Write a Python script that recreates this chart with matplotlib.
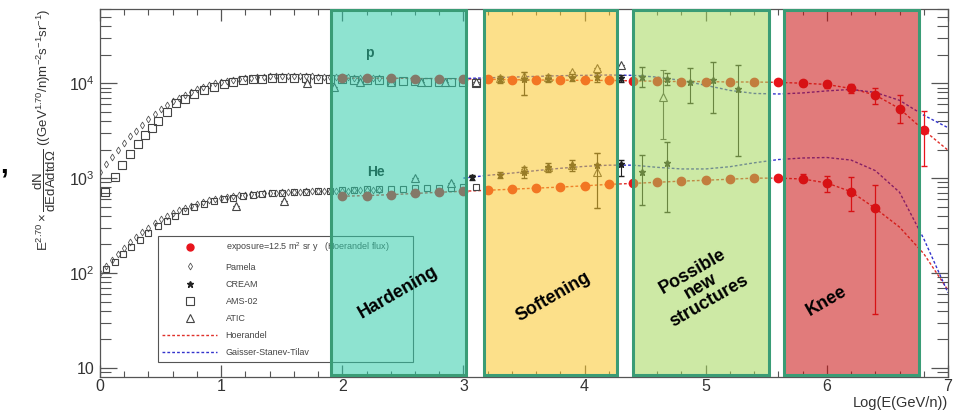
import matplotlib
matplotlib.use("Agg")

import numpy as np
import matplotlib.pyplot as plt
from matplotlib.colors import to_rgba
from matplotlib.lines import Line2D
from matplotlib.ticker import FixedLocator, FixedFormatter, MultipleLocator, LogLocator, NullFormatter

plt.rcParams["font.family"] = ["Liberation Sans", "DejaVu Sans"]
plt.rcParams["mathtext.fontset"] = "custom"
plt.rcParams["mathtext.rm"] = "Liberation Sans"
plt.rcParams["mathtext.it"] = "Liberation Sans:italic"

# ---- data (log10 E in GeV/n, flux x E^2.70) ----
pamela_x = np.arange(0.0, 2.31, 0.05)
pamela_p = [1150, 1400, 1680, 2000, 2350, 2750, 3150, 3650, 4200, 4750, 5300, 5900,
            6500, 7050, 7600, 8150, 8650, 9100, 9550, 9950, 10300, 10600, 10850, 11100,
            11300, 11450, 11600, 11700, 11800, 11850, 11850, 11900, 11900, 11850, 11850,
            11800, 11750, 11700, 11650, 11600, 11550, 11500, 11450, 11400, 11350, 11300, 11250]
pamela_he = [100, 118, 138, 160, 185, 210, 240, 270, 300, 335, 370, 400, 430, 460, 490,
             515, 540, 565, 585, 605, 620, 635, 648, 660, 670, 680, 688, 695, 700, 705,
             710, 715, 718, 722, 725, 728, 730, 732, 734, 736, 738, 740, 742, 744, 746, 748, 750]

ams_p_x = [0.04, 0.12, 0.18, 0.25, 0.31, 0.37, 0.43, 0.48, 0.55, 0.63, 0.70, 0.78, 0.86,
           0.94, 1.02, 1.10, 1.18, 1.26, 1.34, 1.42, 1.50, 1.60, 1.70, 1.80, 1.90, 2.00,
           2.10, 2.20, 2.30, 2.40, 2.50, 2.60, 2.70, 2.80, 2.90, 3.00, 3.10]
ams_p = [714, 1020, 1370, 1790, 2280, 2840, 3360, 3980, 4950, 6160, 6900, 7700, 8500,
         9200, 9800, 10300, 10700, 11000, 11200, 11300, 11400, 11350, 11300, 11200, 11100,
         11000, 10900, 10800, 10700, 10600, 10500, 10450, 10400, 10350, 10300, 10200, 10100]
ams_he_x = [0.05, 0.12, 0.19, 0.26, 0.33, 0.40, 0.48, 0.55, 0.62, 0.70, 0.78, 0.86, 0.94,
            1.02, 1.10, 1.18, 1.26, 1.34, 1.42, 1.50, 1.60, 1.70, 1.80, 1.90, 2.00, 2.10,
            2.20, 2.30, 2.40, 2.50, 2.60, 2.70, 2.80, 2.90, 3.00, 3.10]
ams_he = [110, 130, 158, 190, 225, 265, 310, 355, 400, 450, 495, 535, 570, 600, 625, 648,
          665, 680, 692, 700, 710, 718, 725, 735, 745, 755, 760, 765, 770, 775, 780, 785,
          790, 795, 800, 815]

atic_p_x = [1.71, 1.93, 2.15, 2.40, 2.65, 2.85, 3.10, 3.30, 3.50, 3.70, 3.90, 4.10, 4.30, 4.65]
atic_p = [10000, 9100, 10300, 10200, 10400, 10300, 10200, 11300, 12000, 11600, 13000, 14400, 15500, 7100]
atic_p_lo = [10000, 9100, 10300, 10200, 10400, 10300, 10200, 11300, 7500, 11600, 13000, 14400, 15500, 2600]
atic_p_hi = [10000, 9100, 10300, 10200, 10400, 10300, 10200, 11300, 13000, 11600, 13000, 14400, 15500, 13700]
atic_he_x = [1.12, 1.52, 2.60, 2.90, 3.50, 3.70, 3.90, 4.10]
atic_he = [505, 570, 1000, 880, 1250, 1320, 1380, 1160]
atic_he_lo = [505, 570, 1000, 880, 1250, 1320, 1380, 480]
atic_he_hi = [505, 570, 1000, 880, 1250, 1320, 1380, 1830]

cream_p_x = [3.30, 3.50, 3.70, 3.90, 4.10, 4.30, 4.47, 4.68, 4.87, 5.06, 5.27]
cream_p = [11000, 11000, 11200, 11400, 11500, 11300, 11600, 11000, 10200, 10700, 8600]
cream_p_lo = [10000, 7500, 10300, 10500, 10400, 10300, 9100, 9500, 6200, 4800, 1700]
cream_p_hi = [12000, 13000, 12200, 12400, 12800, 12300, 14700, 12800, 14400, 16600, 15500]
cream_he_x = [3.07, 3.30, 3.50, 3.70, 3.90, 4.10, 4.30, 4.47, 4.68]
cream_he = [1020, 1070, 1150, 1310, 1370, 1370, 1400, 1150, 1440]
cream_he_lo = [960, 1000, 1000, 1150, 1200, 480, 1050, 520, 440]
cream_he_hi = [1080, 1150, 1300, 1450, 1550, 1830, 1550, 1750, 2400]

expo_p_x = np.arange(2.0, 6.81, 0.2)
expo_p = [11300, 11300, 11300, 11200, 11200, 11100, 11000, 10900, 10800, 10800, 10700,
          10700, 10600, 10500, 10400, 10400, 10300, 10300, 10200, 10000, 9700, 8800, 7500, 5400, 3200]
expo_p_lo = [11300, 11300, 11300, 11200, 11200, 11100, 11000, 10900, 10800, 10800, 10700,
             10700, 10600, 10500, 10400, 10400, 10300, 10300, 9700, 9400, 8900, 7900, 6100, 3800, 1330]
expo_p_hi = [11300, 11300, 11300, 11200, 11200, 11100, 11000, 10900, 10800, 10800, 10700,
             10700, 10600, 10500, 10400, 10400, 10300, 10300, 10700, 10600, 10500, 9700, 9000, 7500, 5100]
expo_he_x = np.arange(2.0, 6.41, 0.2)
expo_he = [645, 655, 670, 690, 710, 728, 745, 765, 785, 805, 830, 860, 880, 905, 930,
           950, 975, 1000, 1000, 980, 890, 720, 480]
expo_he_lo = [645, 655, 670, 690, 710, 728, 745, 765, 785, 805, 830, 860, 880, 905, 930,
              950, 975, 1000, 950, 900, 710, 450, 37]
expo_he_hi = [645, 655, 670, 690, 710, 728, 745, 765, 785, 805, 830, 860, 880, 905, 930,
              950, 975, 1000, 1060, 1100, 1060, 1020, 850]

hoer_x = np.arange(2.0, 7.01, 0.2)
hoer_p = [11300, 11300, 11300, 11200, 11200, 11100, 11000, 10900, 10800, 10800, 10700,
          10700, 10600, 10500, 10400, 10400, 10300, 10300, 10200, 10000, 9700, 8800, 7500, 5400, 3200, 1970]
hoer_he = [645, 655, 670, 690, 710, 728, 745, 765, 785, 805, 830, 860, 880, 905, 930,
           950, 975, 1000, 1000, 980, 890, 720, 480, 305, 160, 66]

gst_x = np.arange(3.0, 7.01, 0.2)
gst_p = [11200, 11400, 11600, 11800, 12000, 12100, 12200, 12100, 11600, 10700, 9500,
         8400, 7800, 7700, 7900, 8300, 8600, 8000, 6600, 4600, 3400]
gst_he = [1000, 1070, 1130, 1200, 1270, 1330, 1370, 1370, 1300, 1250, 1250, 1320, 1450,
          1570, 1630, 1650, 1550, 1200, 710, 230, 62]

regions = [(1.91, 3.02, "#32cdaa", "Hardening"),
           (3.17, 4.27, "#fbc72a", "Softening"),
           (4.40, 5.52, "#a4d75b", "Possible\nnew\nstructures"),
           (5.65, 6.76, "#ca0f0f", "Knee")]
region_label_pos = [(2.46, 63), (3.74, 56), (4.96, 72), (6.0, 51)]

# ---- figure ----
fig = plt.figure(figsize=(9.6, 4.11), dpi=100)
ax = fig.add_axes([100 / 960, 1 - 377 / 411, 848 / 960, 368 / 411])
ax.set_yscale("log")
ax.set_xlim(0, 7)
ax.set_ylim(8.04, 6.05e4)

red = "#e8141c"
blk = "#222222"

def errs(v, lo, hi):
    v = np.array(v, float)
    return [v - np.array(lo, float), np.array(hi, float) - v]

ax.plot(hoer_x, hoer_p, ls=(0, (2, 1.5)), lw=1.0, color="#e0302a", zorder=2)
ax.plot(hoer_x, hoer_he, ls=(0, (2, 1.5)), lw=1.0, color="#e0302a", zorder=2)
ax.plot(gst_x, gst_p, ls=(0, (2, 1.5)), lw=1.0, color="#3333cc", zorder=2)
ax.plot(gst_x, gst_he, ls=(0, (2, 1.5)), lw=1.0, color="#3333cc", zorder=2)

ax.plot(pamela_x, pamela_p, ls="none", marker="d", ms=3.5, mfc="none", mec="#555555", mew=0.6, zorder=3)
ax.plot(pamela_x, pamela_he, ls="none", marker="d", ms=3.5, mfc="none", mec="#555555", mew=0.6, zorder=3)
ax.plot(ams_p_x, ams_p, ls="none", marker="s", ms=6, mfc="none", mec="#444444", mew=0.8, zorder=3)
ax.plot(ams_he_x, ams_he, ls="none", marker="s", ms=5, mfc="none", mec="#444444", mew=0.8, zorder=3)
ax.errorbar(atic_p_x, atic_p, yerr=errs(atic_p, atic_p_lo, atic_p_hi), fmt="^", ms=6, mfc="white",
            mec="#444444", mew=0.8, ecolor="#444444", elinewidth=0.8, capsize=2, zorder=3)
ax.errorbar(atic_he_x, atic_he, yerr=errs(atic_he, atic_he_lo, atic_he_hi), fmt="^", ms=6, mfc="white",
            mec="#444444", mew=0.8, ecolor="#444444", elinewidth=0.8, capsize=2, zorder=3)
ax.errorbar(cream_p_x, cream_p, yerr=errs(cream_p, cream_p_lo, cream_p_hi), fmt="*", ms=5, color=blk,
            elinewidth=0.8, capsize=2, zorder=4)
ax.errorbar(cream_he_x, cream_he, yerr=errs(cream_he, cream_he_lo, cream_he_hi), fmt="*", ms=5, color=blk,
            elinewidth=0.8, capsize=2, zorder=4)
ax.errorbar(expo_p_x, expo_p, yerr=errs(expo_p, expo_p_lo, expo_p_hi), fmt="o", ms=6, color=red,
            elinewidth=0.9, capsize=2, zorder=4)
ax.errorbar(expo_he_x, expo_he, yerr=errs(expo_he, expo_he_lo, expo_he_hi), fmt="o", ms=6, color=red,
            elinewidth=0.9, capsize=2, zorder=4)

ax.text(2.22, 2.1e4, "p", fontsize=10, fontweight="bold", color="#111111", ha="center", va="center", zorder=4)
ax.text(2.28, 1160, "He", fontsize=10, fontweight="bold", color="#111111", ha="center", va="center", zorder=4)

# legend (sits under the coloured boxes)
handles = [
    Line2D([], [], ls="none", marker="o", ms=5, color=red),
    Line2D([], [], ls="none", marker="d", ms=3.5, mfc="none", mec="#555555", mew=0.6),
    Line2D([], [], ls="none", marker="*", ms=5, color=blk),
    Line2D([], [], ls="none", marker="s", ms=6, mfc="none", mec="#444444", mew=0.8),
    Line2D([], [], ls="none", marker="^", ms=6, mfc="none", mec="#444444", mew=0.8),
    Line2D([], [], ls=(0, (2, 1.5)), lw=1.0, color="#e0302a"),
    Line2D([], [], ls=(0, (2, 1.5)), lw=1.0, color="#3333cc"),
]
labels = ["exposure=12.5 m$^2$ sr y   (Hoerandel flux)", "Pamela", "CREAM", "AMS-02", "ATIC",
          "Hoerandel", "Gaisser-Stanev-Tilav"]
leg = ax.legend(handles, labels, loc="lower left", bbox_to_anchor=(0.0625, 0.028, 0.3125, 0.337),
                mode="expand", fontsize=6.5, labelspacing=0.9, handlelength=6, handletextpad=1.0,
                borderpad=0.55, fancybox=False, framealpha=1, edgecolor="#555555", labelcolor="#444444")
leg.get_frame().set_linewidth(0.8)
leg.set_zorder(5)

# coloured regions drawn over the data
for (x0, x1, col, name), (lx, ly) in zip(regions, region_label_pos):
    ax.axvspan(x0, x1, ymin=0.006, ymax=0.997, facecolor=to_rgba(col, 0.55),
               edgecolor="#3a9c76", lw=2.2, zorder=6)
    ax.text(lx, ly, name, rotation=30, fontsize=13, fontweight="bold", ha="center", va="center",
            multialignment="center", linespacing=1.0, color="black", zorder=7)

# axes styling
for s in ax.spines.values():
    s.set_color("#555555")
    s.set_linewidth(0.9)
ax.xaxis.set_major_locator(MultipleLocator(1))
ax.xaxis.set_minor_locator(MultipleLocator(0.2))
ax.yaxis.set_major_locator(FixedLocator([10, 100, 1000, 10000]))
ax.yaxis.set_major_formatter(FixedFormatter(["10", "10$^2$", "10$^3$", "10$^4$"]))
ax.yaxis.set_minor_locator(LogLocator(base=10, subs=np.arange(2, 10), numticks=20))
ax.yaxis.set_minor_formatter(NullFormatter())
ax.tick_params(which="both", direction="in", top=True, right=True, color="#555555",
               labelsize=11.5, labelcolor="#333333")
ax.tick_params(axis="x", which="major", length=8.5, width=0.9, pad=1.5)
ax.tick_params(axis="x", which="minor", length=4.3, width=0.8)
ax.tick_params(axis="y", which="major", length=12, width=0.9, pad=4)
ax.tick_params(axis="y", which="minor", length=8, width=0.8)

fig.text(948 / 960, 1 - 403 / 411, "Log(E(GeV/n))", fontsize=10.5, color="#333333", ha="right", va="center")
fig.text(45 / 960, 1 - 130 / 411,
         r"$\mathrm{E}^{2.70}\times\dfrac{\mathrm{dN}}{\mathrm{dEdAdtd}\Omega}$ ((GeV$^{1.70}$/n)m$^{-2}$s$^{-1}$sr$^{-1}$)",
         rotation=90, fontsize=9.5, color="#333333", ha="center", va="center")
fig.text(4 / 960, 1 - 165 / 411, ",", fontsize=20, fontweight="bold", ha="center", va="center")

fig.savefig("out.png", dpi=100)
